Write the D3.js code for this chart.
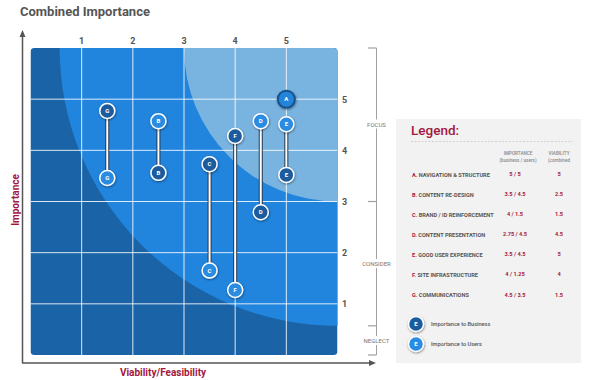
<!DOCTYPE html>
<html><head><meta charset="utf-8">
<script src="https://cdn.jsdelivr.net/npm/d3@7"></script>
<style>html,body{margin:0;padding:0;background:#fff;}svg{display:block;font-family:Roboto,"DejaVu Sans",sans-serif;}</style>
</head><body><svg id="chart" width="598" height="380"></svg>
<script>
// ---- data ----
const codes = ["A","B","C","D","E","F","G"];
const names = ["NAVIGATION & STRUCTURE","CONTENT RE-DESIGN","BRAND / ID REINFORCEMENT","CONTENT PRESENTATION","GOOD USER EXPERIENCE","SITE INFRASTRUCTURE","COMMUNICATIONS"];
const importanceLabels = ["5 / 5","3.5 / 4.5","4 / 1.5","2.75 / 4.5","3.5 / 4.5","4 / 1.25","4.5 / 3.5"];
const viabilityLabels = ["5","2.5","1.5","4.5","5","4","1.5"];
// plotted positions
const viability = [5, 2.5, 3.5, 4.5, 5, 4, 1.5];
const businessImp = [5, 3.56, 3.73, 2.79, 3.52, 4.28, 4.77];
const userImp = [5, 4.57, 1.65, 4.57, 4.51, 1.27, 3.46];
const tickValues = [1,2,3,4,5];
const zoneRadii = [5.43, 3];          // radius (units) around the top-right corner
const zoneNames = ["FOCUS","CONSIDER","NEGLECT"];

const svg = d3.select("#chart");
const x = d3.scaleLinear().domain([0,6]).range([30.5,337.5]);
const y = d3.scaleLinear().domain([0,6]).range([355,48]);
const crimson = "#a3173f", grey = "#555";

const defs = svg.append("defs");
defs.append("clipPath").attr("id","plotClip").append("rect")
  .attr("x",x(0)).attr("y",y(6)).attr("width",x(6)-x(0)).attr("height",y(0)-y(6)).attr("rx",4);
const f = defs.append("filter").attr("id","sh").attr("x","-50%").attr("y","-50%").attr("width","200%").attr("height","200%");
f.append("feDropShadow").attr("dx",0.5).attr("dy",1).attr("stdDeviation",1).attr("flood-color","#000").attr("flood-opacity",0.45);

// title
svg.append("text").attr("x",20).attr("y",16).attr("font-size",13).attr("font-weight",700).attr("fill",grey).text("Combined Importance");

// plot background
const plot = svg.append("g").attr("clip-path","url(#plotClip)");
plot.append("rect").attr("x",x(0)).attr("y",y(6)).attr("width",x(6)-x(0)).attr("height",y(0)-y(6)).attr("fill","#1a63a6");
const zoneColors = ["#2184dd","#79b3df"];
zoneRadii.forEach((r,i)=>{
  plot.append("circle").attr("cx",x(6)).attr("cy",y(6)).attr("r",x(6)-x(6-r)).attr("fill",zoneColors[i]);
});
// grid
plot.selectAll(".vg").data(tickValues).join("line")
  .attr("x1",d=>x(d)).attr("x2",d=>x(d)).attr("y1",y(6)).attr("y2",y(0))
  .attr("stroke","#fff").attr("stroke-opacity",0.85).attr("stroke-width",1);
plot.selectAll(".hg").data(tickValues).join("line")
  .attr("y1",d=>y(d)).attr("y2",d=>y(d)).attr("x1",x(0)).attr("x2",x(6))
  .attr("stroke","#fff").attr("stroke-opacity",0.85).attr("stroke-width",1);

// tick labels
svg.selectAll(".tx").data(tickValues).join("text")
  .attr("x",d=>x(d)).attr("y",44).attr("text-anchor","middle").attr("font-size",9).attr("font-weight",700).attr("fill",grey).text(d=>d);
svg.selectAll(".ty").data(tickValues).join("text")
  .attr("x",342).attr("y",d=>y(d)+3.5).attr("font-size",9).attr("font-weight",700).attr("fill",grey).text(d=>d);

// axes arrows
svg.append("line").attr("x1",22.5).attr("y1",363).attr("x2",22.5).attr("y2",36).attr("stroke",grey).attr("stroke-width",1.5);
svg.append("path").attr("d","M22.5,30 L19.5,37 L25.5,37 Z").attr("fill",grey);
svg.append("line").attr("x1",22).attr("y1",363).attr("x2",370).attr("y2",363).attr("stroke",grey).attr("stroke-width",1.5);
svg.append("path").attr("d","M376,363 L369,360 L369,366 Z").attr("fill",grey);
svg.append("text").attr("transform","translate(18.5,200) rotate(-90)").attr("text-anchor","middle")
  .attr("font-size",10).attr("font-weight",700).attr("fill",crimson).text("Importance");
svg.append("text").attr("x",163).attr("y",375.5).attr("text-anchor","middle")
  .attr("font-size",10).attr("font-weight",700).attr("fill",crimson).text("Viability/Feasibility");

// bracket on the right
const bx = 376.5;
const bracketYs = [y(6), y(3), y(6-zoneRadii[0]), y(0)];
svg.append("line").attr("x1",bx).attr("x2",bx).attr("y1",bracketYs[0]).attr("y2",bracketYs[3]).attr("stroke","#a0a0a0").attr("stroke-width",1);
svg.selectAll(".bt").data(bracketYs).join("line")
  .attr("x1",368).attr("x2",bx).attr("y1",d=>d).attr("y2",d=>d).attr("stroke","#a0a0a0").attr("stroke-width",1.2);
const zoneLabelY = [124.5, 264, 341];
zoneNames.forEach((n,i)=>{
  svg.append("rect").attr("x",bx-16).attr("y",zoneLabelY[i]-5).attr("width",32).attr("height",9).attr("fill","#fff");
  svg.append("text").attr("x",bx).attr("y",zoneLabelY[i]+2).attr("text-anchor","middle").attr("font-size",6).attr("fill","#777").text(n);
});

// data marks
const items = codes.map((c,i)=>({c, v:viability[i], b:businessImp[i], u:userImp[i]}));
const marks = svg.append("g");
items.filter(d=>d.b!==d.u).forEach(d=>{
  marks.append("line").attr("x1",x(d.v)).attr("x2",x(d.v)).attr("y1",y(d.b)).attr("y2",y(d.u))
    .attr("stroke","#263a52").attr("stroke-width",4);
  marks.append("line").attr("x1",x(d.v)).attr("x2",x(d.v)).attr("y1",y(d.b)).attr("y2",y(d.u))
    .attr("stroke","#fff").attr("stroke-width",2);
});
const darkFill = "#1a5c9e", lightFill = "#2a8be2";
function marker(g, cx, cy, fill, label, r){
  g.append("circle").attr("cx",cx).attr("cy",cy).attr("r",r).attr("fill",fill).attr("stroke","#fff").attr("stroke-width",1.5).attr("filter","url(#sh)");
  g.append("text").attr("x",cx).attr("y",cy+2.2).attr("text-anchor","middle").attr("font-size",6).attr("font-weight",700).attr("fill","#fff").text(label);
}
items.forEach(d=>{
  if(d.b===d.u){
    marks.append("circle").attr("cx",x(d.v)).attr("cy",y(d.b)).attr("r",9.5).attr("fill","#17528c").attr("filter","url(#sh)");
    marks.append("circle").attr("cx",x(d.v)).attr("cy",y(d.b)).attr("r",7.5).attr("fill","#2484dc");
    marks.append("text").attr("x",x(d.v)).attr("y",y(d.b)+2.2).attr("text-anchor","middle").attr("font-size",6).attr("font-weight",700).attr("fill","#fff").text(d.c);
  } else {
    marker(marks, x(d.v), y(d.b), darkFill, d.c, 7.5);
    marker(marks, x(d.v), y(d.u), lightFill, d.c, 7.5);
  }
});

// legend panel
const L = svg.append("g");
L.append("rect").attr("x",396).attr("y",119).attr("width",185).attr("height",244).attr("fill","#f2f2f2");
L.append("text").attr("x",411).attr("y",135).attr("font-size",13.5).attr("font-weight",500).attr("fill",crimson).text("Legend:");
L.append("line").attr("x1",411).attr("x2",573).attr("y1",141.5).attr("y2",141.5).attr("stroke","#c8c8c8").attr("stroke-width",0.8).attr("stroke-dasharray","2,1.5");
const hdr = [[518,"IMPORTANCE","(business / users)"],[559,"VIABILITY","(combined"]];
hdr.forEach(h=>{
  L.append("text").attr("x",h[0]).attr("y",155).attr("text-anchor","middle").attr("font-size",4.6).attr("font-weight",500).attr("fill","#888").text(h[1]);
  L.append("text").attr("x",h[0]).attr("y",161.5).attr("text-anchor","middle").attr("font-size",4.6).attr("font-weight",500).attr("fill","#888").text(h[2]);
});
const rowY = d3.scaleLinear().domain([0,6]).range([176.5,297]);
codes.forEach((c,i)=>{
  const t = L.append("text").attr("x",412).attr("y",rowY(i)).attr("font-size",5.6).attr("font-weight",700).attr("fill",grey);
  t.append("tspan").attr("fill",crimson).text(c+". ");
  t.append("tspan").text(names[i]);
  L.append("text").attr("x",515).attr("y",rowY(i)-0.5).attr("text-anchor","middle").attr("font-size",5.6).attr("font-weight",700).attr("fill",crimson).text(importanceLabels[i]);
  L.append("text").attr("x",559).attr("y",rowY(i)-0.5).attr("text-anchor","middle").attr("font-size",5.6).attr("font-weight",700).attr("fill",crimson).text(viabilityLabels[i]);
});
const keyItems = [[darkFill,"Importance to Business",324],[lightFill,"Importance to Users",344]];
keyItems.forEach(k=>{
  marker(L, 416, k[2], k[0], "E", 7.5);
  L.append("text").attr("x",431).attr("y",k[2]+2).attr("font-size",5.6).attr("font-weight",500).attr("fill",grey).text(k[1]);
});
</script></body></html>
